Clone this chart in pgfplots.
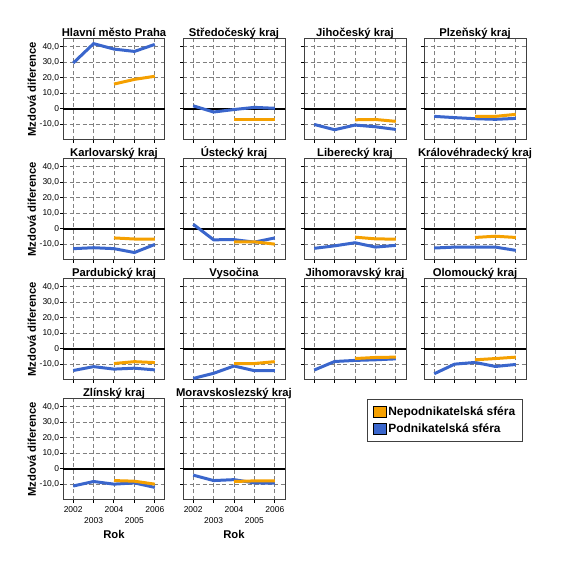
\documentclass[border=0pt]{standalone}
\usepackage{pgfplots}
\pgfplotsset{compat=1.18}
\usepackage{fontspec}
\setmainfont{Liberation Sans}
\definecolor{blu}{HTML}{3A66CC}
\definecolor{ora}{HTML}{F5A000}
\definecolor{frm}{HTML}{404040}
\pgfplotsset{
 panel/.style={
  scale only axis, width=102bp, height=101bp,
  anchor=north west,
  xmin=2001.5, xmax=2006.5, ymin=-20, ymax=45,
  xtick={2002,2003,2004,2005,2006}, ytick={-10,10,20,30,40},
  extra y ticks={0},
  extra y tick style={grid style={solid, black, line width=1.3bp, dash pattern=}},
  grid=major,
  grid style={gray, line width=0.7bp, dash pattern=on 4bp off 2.5bp},
  axis line style={frm, line width=1bp},
  tick style={black, line width=1bp},
  tick align=outside, major tick length=3bp, tick pos=left,
  xticklabels={}, yticklabels={}, extra y tick labels={},
  title style={font=\bfseries\fontsize{11.3}{13}\selectfont, at={(0.5,1)}, anchor=base, yshift=-3.5bp},
  tick label style={font=\fontsize{8.5}{10.5}\selectfont},
  yticklabel style={xshift=2.5bp},
  every axis plot/.append style={line width=3bp, no marks},
 },
 leftcol/.style={yticklabels={{-10,0},{10,0},{20,0},{30,0},{40,0}}, extra y tick labels={{0,0}},
   ylabel={Mzdová diference}, ylabel style={font=\bfseries\fontsize{11.3}{13}\selectfont,
   at={(axis description cs:-0.305,0.5)}, anchor=center}},
 bottomrow/.style={xticklabels={2002,{\rule{0pt}{17.2bp}2003},2004,{\rule{0pt}{17.2bp}2005},2006},
   xlabel={Rok}, xlabel style={font=\bfseries\fontsize{11.3}{13}\selectfont,
   at={(axis description cs:0.5,0)}, anchor=center, yshift=-34bp}},
 sq/.style={legend image code/.code={\draw[fill=#1,draw=black,line width=0.8bp] (0bp,-5.5bp) rectangle (13bp,5.5bp);}},
}
\begin{document}
\begin{tikzpicture}
\path[use as bounding box] (0,0) rectangle (561bp,566bp);
% Row 1
\begin{axis}[panel, leftcol, at={(63bp,527bp)}, title={Hlavní město Praha}]
\addplot[blu] coordinates {(2002,29.5) (2003,42) (2004,38.5) (2005,37) (2006,41.5)};
\addplot[ora] coordinates {(2004,16) (2005,19) (2006,21)};
\end{axis}
\begin{axis}[panel, at={(183bp,527bp)}, title={Středočeský kraj}]
\addplot[blu] coordinates {(2002,2) (2003,-2) (2004,-0.4) (2005,1) (2006,0.4)};
\addplot[ora] coordinates {(2004,-6.8) (2005,-6.8) (2006,-6.8)};
\end{axis}
\begin{axis}[panel, at={(304bp,527bp)}, title={Jihočeský kraj}]
\addplot[blu] coordinates {(2002,-10) (2003,-13.4) (2004,-10.4) (2005,-11.5) (2006,-13.2)};
\addplot[ora] coordinates {(2004,-7) (2005,-6.8) (2006,-8)};
\end{axis}
\begin{axis}[panel, at={(424bp,527bp)}, title={Plzeňský kraj}]
\addplot[blu] coordinates {(2002,-4.8) (2003,-5.6) (2004,-6.3) (2005,-6.7) (2006,-6.1)};
\addplot[ora] coordinates {(2004,-4.8) (2005,-4.8) (2006,-3.5)};
\end{axis}
% Row 2
\begin{axis}[panel, leftcol, at={(63bp,407bp)}, title={Karlovarský kraj}]
\addplot[blu] coordinates {(2002,-12.7) (2003,-12.1) (2004,-12.7) (2005,-15.2) (2006,-10)};
\addplot[ora] coordinates {(2004,-5.8) (2005,-6.5) (2006,-6.5)};
\end{axis}
\begin{axis}[panel, at={(183bp,407bp)}, title={Ústecký kraj}]
\addplot[blu] coordinates {(2002,3) (2003,-7) (2004,-6.9) (2005,-8.5) (2006,-5.8)};
\addplot[ora] coordinates {(2004,-8.3) (2005,-8.3) (2006,-9.8)};
\end{axis}
\begin{axis}[panel, at={(304bp,407bp)}, title={Liberecký kraj}]
\addplot[blu] coordinates {(2002,-12.5) (2003,-10.9) (2004,-8.9) (2005,-11.7) (2006,-10.6)};
\addplot[ora] coordinates {(2004,-5.3) (2005,-6.4) (2006,-6.6)};
\end{axis}
\begin{axis}[panel, at={(424bp,407bp)}, title={Královéhradecký kraj}]
\addplot[blu] coordinates {(2002,-12.3) (2003,-11.7) (2004,-11.7) (2005,-11.7) (2006,-13.8)};
\addplot[ora] coordinates {(2004,-5.5) (2005,-4.7) (2006,-5.5)};
\end{axis}
% Row 3
\begin{axis}[panel, leftcol, at={(63bp,287bp)}, title={Pardubický kraj}]
\addplot[blu] coordinates {(2002,-13.9) (2003,-11.4) (2004,-13) (2005,-12.4) (2006,-13.5)};
\addplot[ora] coordinates {(2004,-9.4) (2005,-8.2) (2006,-8.8)};
\end{axis}
\begin{axis}[panel, at={(183bp,287bp)}, title={Vysočina}]
\addplot[blu] coordinates {(2002,-19) (2003,-15.7) (2004,-11) (2005,-14) (2006,-13.9)};
\addplot[ora] coordinates {(2004,-9.4) (2005,-9.4) (2006,-8.2)};
\end{axis}
\begin{axis}[panel, at={(304bp,287bp)}, title={Jihomoravský kraj}]
\addplot[blu] coordinates {(2002,-13.6) (2003,-8.1) (2004,-7.4) (2005,-7) (2006,-6.4)};
\addplot[ora] coordinates {(2004,-6.2) (2005,-5.5) (2006,-5.3)};
\end{axis}
\begin{axis}[panel, at={(424bp,287bp)}, title={Olomoucký kraj}]
\addplot[blu] coordinates {(2002,-16) (2003,-9.8) (2004,-8.7) (2005,-11.3) (2006,-10)};
\addplot[ora] coordinates {(2004,-7) (2005,-6.2) (2006,-5.3)};
\end{axis}
% Row 4
\begin{axis}[panel, leftcol, bottomrow, at={(63bp,167bp)}, title={Zlínský kraj}]
\addplot[blu] coordinates {(2002,-11) (2003,-8.1) (2004,-9.8) (2005,-9) (2006,-11.9)};
\addplot[ora] coordinates {(2004,-7.5) (2005,-7.9) (2006,-9.8)};
\end{axis}
\begin{axis}[panel, bottomrow, at={(183bp,167bp)}, title={Moravskoslezský kraj},
  legend style={at={(1.804,1)}, anchor=north west, draw=frm, line width=1bp,
    font=\bfseries\fontsize{12}{14}\selectfont, inner xsep=5bp, inner ysep=5.5bp,
    row sep=2.5bp, /tikz/every even column/.append style={column sep=1bp}},
  legend cell align=left]
\addplot[blu, forget plot] coordinates {(2002,-4) (2003,-7.5) (2004,-6.9) (2005,-9) (2006,-9.2)};
\addplot[ora, forget plot] coordinates {(2004,-8.1) (2005,-7.7) (2006,-7.7)};
\addlegendimage{sq=ora}
\addlegendentry{Nepodnikatelská sféra}
\addlegendimage{sq=blu}
\addlegendentry{Podnikatelská sféra}
\end{axis}
\end{tikzpicture}
\end{document}
